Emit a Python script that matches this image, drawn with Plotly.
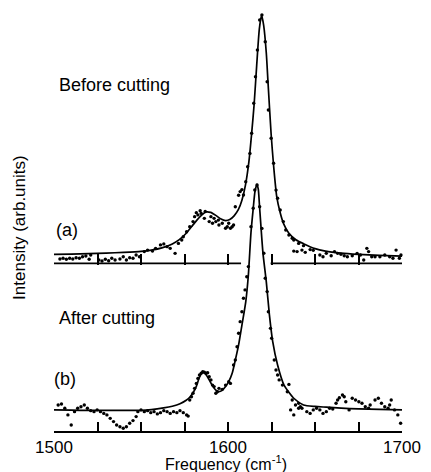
import plotly.graph_objects as go

# ---------------- data (frequency in cm-1, intensity in arb. units) ----------------
curve_a_freq = [1500, 1510, 1520, 1530, 1540, 1550, 1556, 1562, 1568, 1572, 1576, 1579, 1582, 1585, 1587.5,
                1590, 1593, 1596, 1598.6, 1601, 1603.5, 1606, 1608, 1610, 1612, 1613.6, 1615, 1616.5, 1618,
                1619.3, 1620.5, 1622, 1623, 1624.8, 1626.2, 1628, 1630, 1632, 1635, 1639, 1643.4, 1650, 1656,
                1665, 1675, 1687, 1700]
curve_a_int = [3.7, 3.8, 4.0, 4.2, 4.5, 4.9, 5.4, 6.3, 7.9, 9.6, 12.2, 14.8, 17.4, 19.6, 20.8,
               20.6, 19.4, 17.9, 17.3, 17.7, 19.2, 21.8, 25.5, 31.5, 41.0, 52.5, 64.0, 80.0, 94.5,
               100.2, 96.0, 85.0, 73.0, 52.0, 39.5, 27.0, 20.5, 16.0, 12.2, 9.6, 8.0, 6.0, 5.0,
               4.2, 3.7, 3.3, 3.0]

dots_a_freq = [1503.4, 1505.2, 1507.1, 1509.0, 1510.8, 1512.7, 1514.6, 1516.4, 1518.3, 1520.2, 1521.1, 1525.8,
               1527.6, 1529.5, 1531.4, 1533.2, 1535.1, 1537.9, 1539.8, 1541.6, 1543.5, 1545.4, 1547.2, 1549.1,
               1551.9, 1553.8, 1556.6, 1558.4, 1561.2, 1563.1, 1565.0, 1566.8, 1569.6, 1571.5, 1573.4, 1574.3,
               1576.2, 1578.0, 1579.9, 1580.8, 1582.7, 1584.6, 1586.4, 1589.2, 1591.1, 1593.0, 1594.8, 1596.7,
               1599.6, 1601.4, 1603.2,
               1581.8, 1584.0, 1586.9, 1590.2, 1592.0, 1594.5, 1598.6, 1600.4, 1602.4,
               1604.2, 1606.1, 1607.0, 1608.0, 1608.9, 1610.2,
               1611.3, 1612.6, 1613.6, 1614.8, 1615.8, 1616.9, 1618.2, 1619.5, 1621.4, 1622.5, 1623.2, 1624.8,
               1626.2, 1627.6, 1628.5, 1630.0, 1631.8, 1633.2, 1635.0, 1636.9,
               1637.8, 1640.6, 1643.4, 1637.8, 1639.7, 1642.5, 1644.4, 1647.2, 1649.0, 1652.8, 1654.6, 1656.5,
               1659.3, 1661.2, 1663.0, 1664.9, 1666.8, 1668.6, 1671.4, 1674.2, 1676.1, 1678.0, 1679.8, 1680.8,
               1682.6, 1684.5, 1687.3, 1690.1, 1692.9, 1694.8, 1696.6, 1698.5, 1699.4]
dots_a_int = [1.8, 2.1, 1.7, 2.1, 1.8, 2.3, 2.1, 2.7, 3.0, 1.7, 3.4, 1.4,
              1.0, 1.7, 1.1, 2.1, 1.4, 1.8, 2.7, 1.4, 2.3, 2.1, 3.4, 2.7,
              4.8, 5.4, 5.0, 6.1, 7.5, 7.9, 6.8, 6.1, 4.1, 8.1, 9.5, 10.8,
              12.8, 14.8, 16.9, 18.9, 19.6, 20.2, 18.2, 16.9, 16.2, 16.9, 15.5, 16.2,
              14.8, 14.2, 15.5,
              20.5, 21.3, 21.0, 18.9, 18.2, 17.5, 14.2, 16.2, 14.8,
              22.9, 27.5, 29.0, 29.8, 27.6, 33.0,
              39.0, 44.4, 52.5, 64.6, 75.3, 86.1, 98.2, 100.2, 89.4, 73.3, 61.9, 50.5,
              40.4, 29.6, 26.3, 21.6, 16.9, 13.5, 11.5, 10.2,
              9.5, 8.1, 7.2, 5.0, 4.8, 5.4, 4.5, 5.6, 5.3, 3.4, 2.7, 4.1,
              3.1, 4.8, 4.1, 3.7, 3.1, 2.7, 3.1, 4.1, 3.4, 1.4, 6.1, 4.8,
              2.7, 2.7, 2.7, 3.4, 2.7, 2.1, 5.4, 2.1, 3.4]

curve_b_freq = [1500, 1510, 1520, 1530, 1540, 1550, 1556, 1563, 1568, 1572.4, 1576, 1578, 1580, 1581.8,
                1583.5, 1585.5, 1587.5, 1589.2, 1591, 1593, 1594.8, 1596.7, 1598.6, 1600.4, 1602.4, 1604.2,
                1606.1, 1608, 1610.2, 1611.7, 1613.2, 1614.5, 1615.5, 1616.6, 1617.4, 1618.2, 1620.1, 1622,
                1623.8, 1625.7, 1628.5, 1632.2, 1637.8, 1643.4, 1650, 1656.5, 1665, 1675, 1687, 1700]
curve_b_int = [8.5, 8.4, 8.3, 8.3, 8.3, 8.3, 8.6, 9.3, 10.0, 11.0, 12.4, 13.6, 15.5, 18.0,
               21.5, 23.8, 22.6, 20.6, 18.3, 16.5, 15.9, 16.4, 17.9, 19.9, 23.3, 28.6,
               34.7, 42.7, 52.1, 62.9, 80.0, 89.8, 96.5, 99.5, 97.5, 89.8, 71.7, 60.2,
               46.8, 36.0, 26.6, 18.5, 13.2, 10.5, 9.9, 9.6, 9.2, 8.9, 8.7, 8.5]

dots_b_freq = [1502.4, 1504.3, 1506.2, 1508.0, 1509.9, 1511.8, 1513.6, 1515.5, 1517.4, 1519.2, 1521.1, 1523.0,
               1524.8, 1526.7, 1528.6, 1530.4, 1532.3, 1534.2, 1536.0, 1537.9, 1539.8, 1541.6, 1543.5, 1545.4,
               1547.2, 1548.2, 1550.0, 1551.9, 1553.8, 1555.6, 1557.5, 1559.4, 1561.2, 1563.1, 1565.0, 1566.8,
               1568.7, 1570.6, 1572.4, 1574.3, 1576.2, 1577.1,
               1578.0, 1579.0, 1579.9, 1580.8, 1581.8, 1582.7, 1583.6, 1584.6, 1585.5, 1586.4, 1587.4, 1588.3,
               1589.2, 1590.2, 1591.1, 1592.0, 1593.0, 1593.9, 1594.8, 1596.7, 1598.6, 1600.4, 1601.4, 1603.2,
               1604.2,
               1605.2, 1606.1, 1607.0, 1608.0, 1608.9, 1609.8, 1610.8, 1611.7, 1613.2, 1614.5, 1615.4, 1616.7,
               1618.2, 1619.5, 1620.6, 1621.4, 1622.5, 1623.2, 1624.4, 1625.1, 1626.6, 1627.6, 1628.5, 1629.4,
               1631.3, 1635.0, 1636.9, 1638.8, 1640.6, 1642.5,
               1634.1, 1636.0, 1637.8, 1640.6, 1641.6, 1645.3, 1647.2, 1649.0, 1650.9, 1652.8, 1654.6, 1656.5,
               1658.4, 1660.2, 1662.1, 1663.0, 1664.0, 1665.8, 1666.8, 1667.7, 1669.6, 1671.4, 1673.3, 1675.2,
               1677.0, 1678.9, 1680.8, 1681.7, 1684.5, 1686.4, 1688.2, 1690.1, 1692.0, 1692.9, 1693.8, 1695.7,
               1697.6, 1699.2]
dots_b_int = [10.5, 10.9, 9.2, 6.5, 2.4, 7.8, 9.2, 9.8, 10.5, 9.2, 8.2, 7.8,
              8.5, 7.8, 7.1, 6.5, 5.1, 3.8, 2.4, 1.7, 1.1, 1.7, 3.1, 4.2,
              5.8, 7.8, 8.5, 7.8, 8.2, 7.4, 7.8, 6.9, 7.4, 8.2, 7.8, 7.1,
              7.8, 7.4, 8.2, 7.4, 6.5, 6.0,
              12.5, 13.8, 15.2, 17.2, 19.2, 21.2, 22.6, 23.3, 23.9, 23.7, 23.3, 23.5,
              21.9, 20.6, 18.5, 17.9, 15.2, 15.8, 17.2, 16.8, 18.5, 19.9, 19.2, 26.6,
              28.6,
              34.0, 39.4, 44.1, 48.1, 53.5, 56.9, 62.2, 66.3, 82.4, 89.8, 97.2, 99.2,
              90.4, 81.7, 71.7, 61.6, 56.2, 48.1, 41.4, 37.4, 28.6, 24.6, 22.6, 20.6,
              18.5, 18.8, 12.5, 10.5, 11.2, 9.2,
              15.8, 8.5, 6.5, 9.2, 9.8, 7.8, 7.1, 8.5, 9.2, 8.5, 7.1, 7.8,
              9.2, 8.9, 11.2, 12.5, 13.4, 14.5, 13.8, 11.8, 8.5, 13.2, 12.5, 11.8,
              11.2, 9.8, 9.2, 10.5, 12.5, 13.2, 11.2, 9.8, 9.2, 10.5, 12.5, 8.5,
              6.5, 3.1]

# axis of spectrum (a) is interrupted where spectrum (b) crosses it
axis_a_freq = [1500, 1607.5, None, 1624.5, 1700]
axis_a_level = [0, 0, None, 0, 0]

major_tick_vals = [1500, 1600, 1700]
major_tick_text = ["1500", "1600", "1700"]
minor_tick_step = 25

labels = ["Before cutting", "(a)", "After cutting", "(b)"]

# ---------------- figure ----------------
W, H = 431, 472
ML, MR, MT, MB = 54, 20, 10, 41
plot_h = H - MT - MB
px_per_unit = 2.48
axis_a_px = 263.5           # pixel row of the (a) baseline
pad_units = 0.45
dom_a_bottom = (H - MB - axis_a_px - pad_units * px_per_unit) / plot_h

FONT = "Liberation Sans, Arial, sans-serif"
fig = go.Figure()

line_style = dict(color="black", width=1.7)
mark_style = dict(color="black", size=3.4)

fig.add_trace(go.Scatter(x=curve_b_freq, y=curve_b_int, mode="lines", line=dict(shape="spline", smoothing=0.6, **line_style),
                         xaxis="x", yaxis="y", hoverinfo="skip"))
fig.add_trace(go.Scatter(x=dots_b_freq, y=dots_b_int, mode="markers", marker=mark_style, cliponaxis=False,
                         xaxis="x", yaxis="y", hoverinfo="skip"))
fig.add_trace(go.Scatter(x=curve_a_freq, y=curve_a_int, mode="lines", line=dict(shape="spline", smoothing=0.6, **line_style),
                         xaxis="x2", yaxis="y2", hoverinfo="skip"))
fig.add_trace(go.Scatter(x=dots_a_freq, y=dots_a_int, mode="markers", marker=mark_style, cliponaxis=False,
                         xaxis="x2", yaxis="y2", hoverinfo="skip"))
fig.add_trace(go.Scatter(x=axis_a_freq, y=axis_a_level, mode="lines", line=dict(color="black", width=2),
                         xaxis="x2", yaxis="y2", hoverinfo="skip", connectgaps=False))

fig.update_layout(
    width=W, height=H,
    margin=dict(l=ML, r=MR, t=MT, b=MB, pad=0),
    paper_bgcolor="white", plot_bgcolor="rgba(0,0,0,0)",
    showlegend=False,
    font=dict(family=FONT, color="black"),
    xaxis=dict(domain=[0, 1], range=[1500, 1700], anchor="y", showline=True, linewidth=2, linecolor="black",
               ticks="inside", ticklen=9, tickwidth=1.6, tickcolor="black",
               tickmode="array", tickvals=major_tick_vals, ticktext=major_tick_text,
               tickfont=dict(size=17, family=FONT, color="black"),
               minor=dict(dtick=minor_tick_step, tick0=1500, ticks="inside", ticklen=9, tickwidth=1.6,
                          tickcolor="black", showgrid=False),
               showgrid=False, zeroline=False),
    yaxis=dict(domain=[0, 1], range=[0, plot_h / px_per_unit], visible=False),
    xaxis2=dict(domain=[0, 1], range=[1500, 1700], anchor="y2", matches="x", showline=False,
                ticks="inside", ticklen=11, tickwidth=1.6, tickcolor="black",
                tickmode="array", tickvals=major_tick_vals, showticklabels=False,
                minor=dict(dtick=minor_tick_step, tick0=1500, ticks="inside", ticklen=11, tickwidth=1.6,
                           tickcolor="black", showgrid=False),
                showgrid=False, zeroline=False),
    yaxis2=dict(domain=[dom_a_bottom, 1], range=[-pad_units, (axis_a_px - MT) / px_per_unit], visible=False),
)

def ann(text, x_px, y_px, size, xanchor="left", angle=0):
    fig.add_annotation(text=text, xref="paper", yref="paper",
                       x=(x_px - ML) / (W - ML - MR), y=(H - MB - y_px) / plot_h,
                       xanchor=xanchor, yanchor="middle", showarrow=False, textangle=angle,
                       font=dict(size=size, family=FONT, color="black"))

ann(labels[0], 57, 85, 18)
ann(labels[1], 54, 230, 18)
ann(labels[2], 57, 318, 18)
ann(labels[3], 52, 379, 18)
ann("Intensity (arb.units)", 19, 227, 17, xanchor="center", angle=-90)
ann("Frequency (cm<sup>-1</sup>)", 230, 463, 16, xanchor="center")

fig.write_html("out.html")
